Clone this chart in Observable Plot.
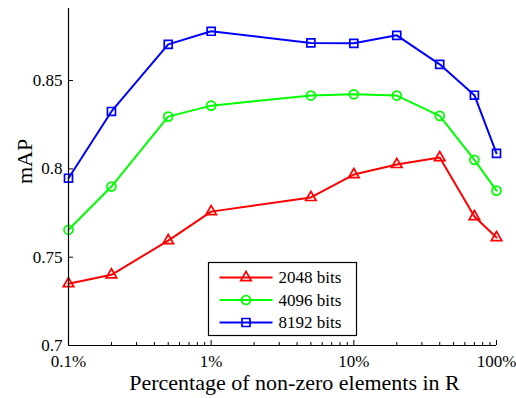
<!DOCTYPE html>
<html><head><meta charset="utf-8">
<script src="https://cdn.jsdelivr.net/npm/d3@7"></script>
<script src="https://cdn.jsdelivr.net/npm/@observablehq/plot@0.6"></script>
<style>body{margin:0;background:#fff} #chart{position:relative;width:516px;height:398px}</style>
</head><body><div id="chart"></div>
<script>
// ---- data ----
const percent = [0.1, 0.2, 0.5, 1, 5, 10, 20, 40, 70, 100];
const seriesNames = ["2048 bits", "4096 bits", "8192 bits"];
const map2048 = [0.735, 0.740, 0.7594, 0.7758, 0.7838, 0.7968, 0.8025, 0.8064, 0.773, 0.7611];
const map4096 = [0.7655, 0.790, 0.8296, 0.8358, 0.8415, 0.8422, 0.8415, 0.830, 0.8051, 0.7877];
const map8192 = [0.7947, 0.8325, 0.8705, 0.8779, 0.8713, 0.8711, 0.8756, 0.8592, 0.8417, 0.8088];
const xTicks = [0.1, 1, 10, 100];
const xMinorTicks = [0.2,0.3,0.4,0.5,0.6,0.7,0.8,0.9, 2,3,4,5,6,7,8,9, 20,30,40,50,60,70,80,90];
const yTicks = [0.7, 0.75, 0.8, 0.85];
const xLabel = "Percentage of non-zero elements in R";
const yLabel = "mAP";

// ---- style ----
const colors = ["#ff0000", "#00ff00", "#0000ff"];
const symbols = ["triangle", "circle", "square"];
const d3symbols = [d3.symbolTriangle, d3.symbolCircle, d3.symbolSquare];
const radii = [3.9, 4.5, 4.5];
const W = 516, H = 398, mL = 68, mR = 20, mT = 8, mB = 53;
const fw = W - mL - mR, fh = H - mT - mB;
const FONT = "'Liberation Serif', 'Times New Roman', serif";

const valuesBySeries = [map2048, map4096, map8192];
const rows = seriesNames.flatMap((s, i) => percent.map((p, j) => ({x: p, y: valuesBySeries[i][j], s})));

const plot = Plot.plot({
  width: W, height: H,
  marginLeft: mL, marginRight: mR, marginTop: mT, marginBottom: mB,
  style: {fontFamily: FONT, fontSize: "17px", background: "white", color: "black"},
  x: {type: "log", domain: [0.1, 100]},
  y: {domain: [0.7, 0.8908]},
  color: {domain: seriesNames, range: colors},
  symbol: {domain: seriesNames, range: symbols},
  marks: [
    ...seriesNames.map((s, i) => Plot.line(rows.filter(d => d.s === s), {x: "x", y: "y", stroke: colors[i], strokeWidth: 2})),
    ...seriesNames.map((s, i) => Plot.dot(rows.filter(d => d.s === s), {x: "x", y: "y", stroke: colors[i], symbol: () => symbols[i], r: radii[i], strokeWidth: 1.7, fill: "none"})),
    Plot.ruleY([0.7], {stroke: "black", strokeWidth: 1.2}),
    Plot.ruleX([0.1], {stroke: "black", strokeWidth: 1.2}),
    Plot.tickX(xTicks, {x: d => d, insetTop: fh - 5, stroke: "black"}),
    Plot.tickX(xMinorTicks, {x: d => d, insetTop: fh - 3, stroke: "black"}),
    Plot.tickY(yTicks, {y: d => d, insetRight: fw - 5, stroke: "black"}),
    Plot.axisX(xTicks, {tickSize: 0, tickPadding: 9, tickFormat: d => d + "%", label: null, fontSize: 17}),
    Plot.axisY(yTicks, {tickSize: 0, tickPadding: 6, tickFormat: d => String(d), label: null, fontSize: 17}),
    Plot.text([xLabel], {frameAnchor: "bottom", dy: 44, dx: 12, fontSize: 22, fill: "black"}),
    Plot.text([yLabel], {frameAnchor: "left", rotate: -90, dx: -44, dy: 7, fontSize: 22, fill: "black"})
  ]
});
document.getElementById("chart").appendChild(plot);

// ---- legend (inside the axes, lower middle) ----
const svg = d3.select(plot);
const lg = svg.append("g").attr("font-family", FONT).attr("font-size", 17).attr("text-anchor", "start");
const box = {x: 208.5, y: 262.5, w: 148, h: 73};
lg.append("rect").attr("x", box.x).attr("y", box.y).attr("width", box.w).attr("height", box.h)
  .attr("fill", "white").attr("stroke", "black").attr("stroke-width", 1.2);
seriesNames.forEach((s, i) => {
  const cy = box.y + 15 + i * 22.5;
  lg.append("line").attr("x1", box.x + 11).attr("x2", box.x + 64).attr("y1", cy).attr("y2", cy)
    .attr("stroke", colors[i]).attr("stroke-width", 2);
  lg.append("path").attr("d", d3.symbol(d3symbols[i], radii[i] * radii[i] * Math.PI)())
    .attr("transform", `translate(${box.x + 37.5},${cy})`)
    .attr("fill", "none").attr("stroke", colors[i]).attr("stroke-width", 1.7);
  lg.append("text").attr("x", box.x + 70).attr("y", cy + 5.5).attr("fill", "black")
    .attr("text-anchor", "start").text(s);
});
</script>
</body></html>
